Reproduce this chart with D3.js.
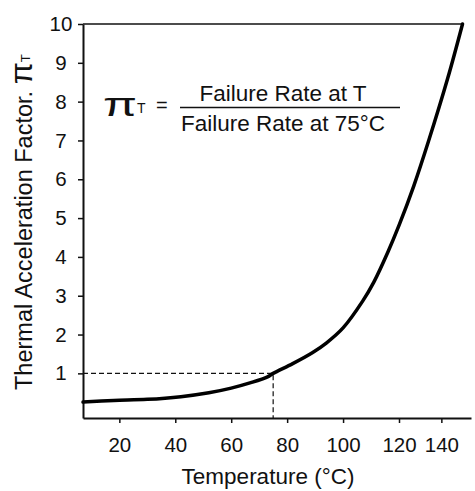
<!DOCTYPE html>
<html>
<head>
<meta charset="utf-8">
<script src="https://cdn.jsdelivr.net/npm/d3@7"></script>
<style>
  html, body { margin: 0; padding: 0; background: #fff; }
  svg { display: block; font-family: "Liberation Sans", Arial, sans-serif; }
</style>
</head>
<body>
<svg id="chart"></svg>
<script>
// Values
const temps = [7, 18, 30, 42, 52, 60, 67, 73, 75, 82, 89, 94, 100, 107, 111, 116, 120, 127, 134, 143, 150];
const factors = [0.26, 0.3, 0.33, 0.4, 0.5, 0.62, 0.76, 0.91, 1.0, 1.25, 1.53, 1.78, 2.17, 2.86, 3.35, 4.12, 4.81, 5.83, 6.99, 8.6, 10];
const xTicks = [20, 40, 60, 80, 100, 120, 140];
const yTicks = [1, 2, 3, 4, 5, 6, 7, 8, 9, 10];
const refTemp = 75;
const refFactor = 1;

const w = 475;
const h = 491;

const svg = d3.select("#chart").attr("width", w).attr("height", h);

// The printed temperature axis is squeezed past 120, so the scale is piecewise
const xScale = d3.scaleLinear().domain([7, 120, 154]).range([83, 399, 471]);
const yScale = d3.scaleLinear().domain([-0.15, 10]).range([418, 24]);

// top frame line
svg
  .append("line")
  .attr("x1", xScale(7))
  .attr("x2", xScale(150))
  .attr("y1", yScale(10))
  .attr("y2", yScale(10))
  .style("stroke", "#111")
  .style("stroke-width", 1.5);

// x-axis
const xAxis = svg
  .append("g")
  .attr("transform", "translate(0," + yScale(-0.15) + ")")
  .call(d3.axisBottom(xScale).tickValues(xTicks).tickSize(5).tickSizeOuter(0).tickPadding(14));
xAxis.select(".domain").style("stroke", "#111").style("stroke-width", 2);
xAxis.selectAll(".tick line").style("stroke", "#111").style("stroke-width", 1.5);
xAxis.selectAll("text").style("font-size", "20.5px").style("fill", "#111").style("font-family", "inherit");

// y-axis
const yAxis = svg
  .append("g")
  .attr("transform", "translate(" + xScale(7) + ",0)")
  .call(d3.axisLeft(yScale).tickValues(yTicks).tickSize(5).tickSizeOuter(0));
yAxis.select(".domain").style("stroke", "#111").style("stroke-width", 2);
yAxis.selectAll(".tick line").style("stroke", "#111").style("stroke-width", 1.5);
yAxis
  .selectAll("text")
  .attr("x", -22)
  .attr("text-anchor", "middle")
  .style("font-size", "20.5px")
  .style("fill", "#111")
  .style("font-family", "inherit");

// dashed guide at 75 C
svg
  .append("path")
  .attr("d", "M" + xScale(7) + "," + yScale(refFactor) + "H" + xScale(refTemp) + "V" + yScale(-0.15))
  .style("fill", "none")
  .style("stroke", "#111")
  .style("stroke-width", 1.2)
  .style("stroke-dasharray", "5,3");

// curve
const line = d3
  .line()
  .x((d, i) => xScale(temps[i]))
  .y((d) => yScale(d))
  .curve(d3.curveCatmullRom);

svg
  .append("path")
  .datum(factors)
  .attr("d", line)
  .style("fill", "none")
  .style("stroke", "#000")
  .style("stroke-width", 3.5)
  .style("stroke-linecap", "round");

// axis titles
svg
  .append("text")
  .attr("x", 268)
  .attr("y", 484)
  .attr("text-anchor", "middle")
  .style("font-size", "22.5px")
  .style("fill", "#111")
  .text("Temperature (°C)");

const yTitle = svg
  .append("text")
  .attr("transform", "translate(32,390) rotate(-90)")
  .style("font-size", "23.5px")
  .style("fill", "#111");
yTitle.append("tspan").text("Thermal Acceleration Factor. ");
yTitle.append("tspan").style("font-size", "32px").text("π");
yTitle.append("tspan").attr("dy", -2).style("font-size", "13px").text("T");

// equation
const eq = svg.append("g");
eq.append("text")
  .attr("x", 103)
  .attr("y", 116)
  .attr("textLength", 34)
  .attr("lengthAdjust", "spacingAndGlyphs")
  .style("font-size", "34px")
  .style("fill", "#111")
  .text("π");
eq.append("text")
  .attr("x", 137)
  .attr("y", 113)
  .style("font-size", "14px")
  .style("fill", "#111")
  .text("T");
eq.append("text")
  .attr("x", 156)
  .attr("y", 112)
  .style("font-size", "20px")
  .style("fill", "#111")
  .text("=");
eq.append("text")
  .attr("x", 283)
  .attr("y", 101)
  .attr("text-anchor", "middle")
  .style("font-size", "22.5px")
  .style("fill", "#111")
  .text("Failure Rate at T");
eq.append("line")
  .attr("x1", 180)
  .attr("x2", 400)
  .attr("y1", 107.5)
  .attr("y2", 107.5)
  .style("stroke", "#111")
  .style("stroke-width", 1.3);
eq.append("text")
  .attr("x", 283)
  .attr("y", 131)
  .attr("text-anchor", "middle")
  .style("font-size", "22.5px")
  .style("fill", "#111")
  .text("Failure Rate at 75°C");
</script>
</body>
</html>
